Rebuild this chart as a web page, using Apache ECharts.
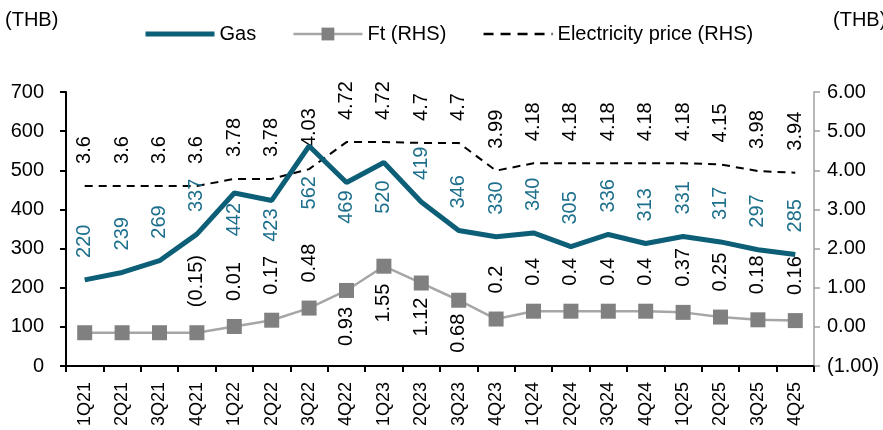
<!DOCTYPE html>
<html><head><meta charset="utf-8">
<script src="https://cdn.jsdelivr.net/npm/echarts@6/dist/echarts.min.js"></script>
<style>html,body{margin:0;padding:0;background:#fff}#c{width:883px;height:430px}</style>
</head><body><div id="c"></div>
<script>
const categories = ['1Q21','2Q21','3Q21','4Q21','1Q22','2Q22','3Q22','4Q22','1Q23','2Q23','3Q23','4Q23','1Q24','2Q24','3Q24','4Q24','1Q25','2Q25','3Q25','4Q25'];
const gas = [220,239,269,337,442,423,562,469,520,419,346,330,340,305,336,313,331,317,297,285];
const ft = [-0.15,-0.15,-0.15,-0.15,0.01,0.17,0.48,0.93,1.55,1.12,0.68,0.2,0.4,0.4,0.4,0.4,0.37,0.25,0.18,0.16];
const electricity = [3.6,3.6,3.6,3.6,3.78,3.78,4.03,4.72,4.72,4.7,4.7,3.99,4.18,4.18,4.18,4.18,4.18,4.15,3.98,3.94];
const leftAxisRange = [0, 700, 100];
const rightAxisRange = [-1, 6, 1];
const ftHiddenLabels = ['1Q21','2Q21','3Q21'];

// label placement (styling, kept apart from the data)
const gasBelow = {'1Q22': 9, '2Q22': 7, '3Q22': 29, '4Q22': 7, '1Q23': 17};
const ftBelow = {'4Q22': 9, '1Q23': 10, '2Q23': 7, '3Q23': 6};

const FONT = '"Liberation Sans", Arial, sans-serif';
const TEAL = '#0d5f78';
const TEAL_TXT = '#1d6f8c';
const CLEAR = 'rgba(0,0,0,0)';

function upLabel(dist, color) {
  return {show: true, position: 'top', distance: dist, rotate: 90, align: 'left', verticalAlign: 'middle',
          fontSize: 20, fontFamily: FONT, color: color};
}
function downLabel(dist, color) {
  return {show: true, position: 'bottom', distance: dist, rotate: 90, align: 'right', verticalAlign: 'middle',
          fontSize: 20, fontFamily: FONT, color: color};
}
const fmtParen = v => v < 0 ? '(' + Math.abs(v) + ')' : String(v);

const gasData = gas.map((v, i) => {
  const c = categories[i];
  return {value: v, label: c in gasBelow ? downLabel(gasBelow[c], TEAL_TXT) : upLabel(21, TEAL_TXT)};
});
const ftData = ft.map((v, i) => {
  const c = categories[i];
  let label = c in ftBelow ? downLabel(ftBelow[c], '#000') : upLabel(18, '#000');
  if (ftHiddenLabels.includes(c)) label = {show: false};
  return {value: v, label: label};
});
const elData = electricity.map(v => ({value: v, label: upLabel(21, '#000')}));

const chart = echarts.init(document.getElementById('c'), null, {renderer: 'canvas'});
chart.setOption({
  animation: false,
  textStyle: {fontFamily: FONT},
  grid: {left: 66, right: 69, top: 92, bottom: 64, containLabel: false},
  legend: {
    left: 138, top: 19, itemWidth: 69, itemHeight: 16, itemGap: 36,
    textStyle: {fontSize: 20, fontFamily: FONT, color: '#000'},
    data: [
      {name: 'Gas', itemStyle: {color: CLEAR}, lineStyle: {width: 5, color: TEAL}},
      {name: 'Ft (RHS)', lineStyle: {width: 2.5, color: '#a6a6a6'}},
      {name: 'Electricity price (RHS)', itemStyle: {color: CLEAR}, lineStyle: {width: 2.5, color: '#000', type: [10, 7]}}
    ]
  },
  graphic: [
    {type: 'text', left: 5, top: 10, style: {text: '(THB)', font: '20px ' + FONT, fill: '#000'}},
    {type: 'text', left: 833, top: 10, style: {text: '(THB)', font: '20px ' + FONT, fill: '#000'}}
  ],
  xAxis: {
    type: 'category', data: categories, boundaryGap: true,
    axisLine: {lineStyle: {color: '#000', width: 2}},
    axisTick: {show: true, length: 6, lineStyle: {color: '#000', width: 2}},
    axisLabel: {rotate: 90, fontSize: 18, fontFamily: FONT, color: '#000', margin: 16}
  },
  yAxis: [
    {
      type: 'value', min: leftAxisRange[0], max: leftAxisRange[1], interval: leftAxisRange[2],
      splitLine: {show: false},
      axisLine: {show: true, lineStyle: {color: '#000', width: 2}},
      axisTick: {show: true, length: 6, lineStyle: {color: '#000', width: 2}},
      axisLabel: {fontSize: 20, fontFamily: FONT, color: '#000', margin: 22}
    },
    {
      type: 'value', min: rightAxisRange[0], max: rightAxisRange[1], interval: rightAxisRange[2],
      splitLine: {show: false},
      axisLine: {show: true, lineStyle: {color: '#a0a0a0', width: 1.5}},
      axisTick: {show: true, length: 6, lineStyle: {color: '#a0a0a0', width: 1.5}},
      axisLabel: {fontSize: 20, fontFamily: FONT, color: '#000', margin: 13,
        formatter: v => v < 0 ? '(' + Math.abs(v).toFixed(2) + ')' : v.toFixed(2)}
    }
  ],
  series: [
    {
      name: 'Gas', type: 'line', yAxisIndex: 0, data: gasData,
      symbol: 'circle', symbolSize: 2, showSymbol: true,
      itemStyle: {color: CLEAR},
      lineStyle: {color: TEAL, width: 5},
      z: 3
    },
    {
      name: 'Ft (RHS)', type: 'line', yAxisIndex: 1, data: ftData,
      symbol: 'rect', symbolSize: 15,
      itemStyle: {color: '#808080'},
      lineStyle: {color: '#a6a6a6', width: 2.5},
      label: {formatter: p => fmtParen(p.value)},
      z: 2
    },
    {
      name: 'Electricity price (RHS)', type: 'line', yAxisIndex: 1, data: elData,
      symbol: 'circle', symbolSize: 2,
      itemStyle: {color: CLEAR},
      lineStyle: {color: '#000', width: 2, type: [8, 6]},
      z: 2
    }
  ]
});
</script></body></html>
